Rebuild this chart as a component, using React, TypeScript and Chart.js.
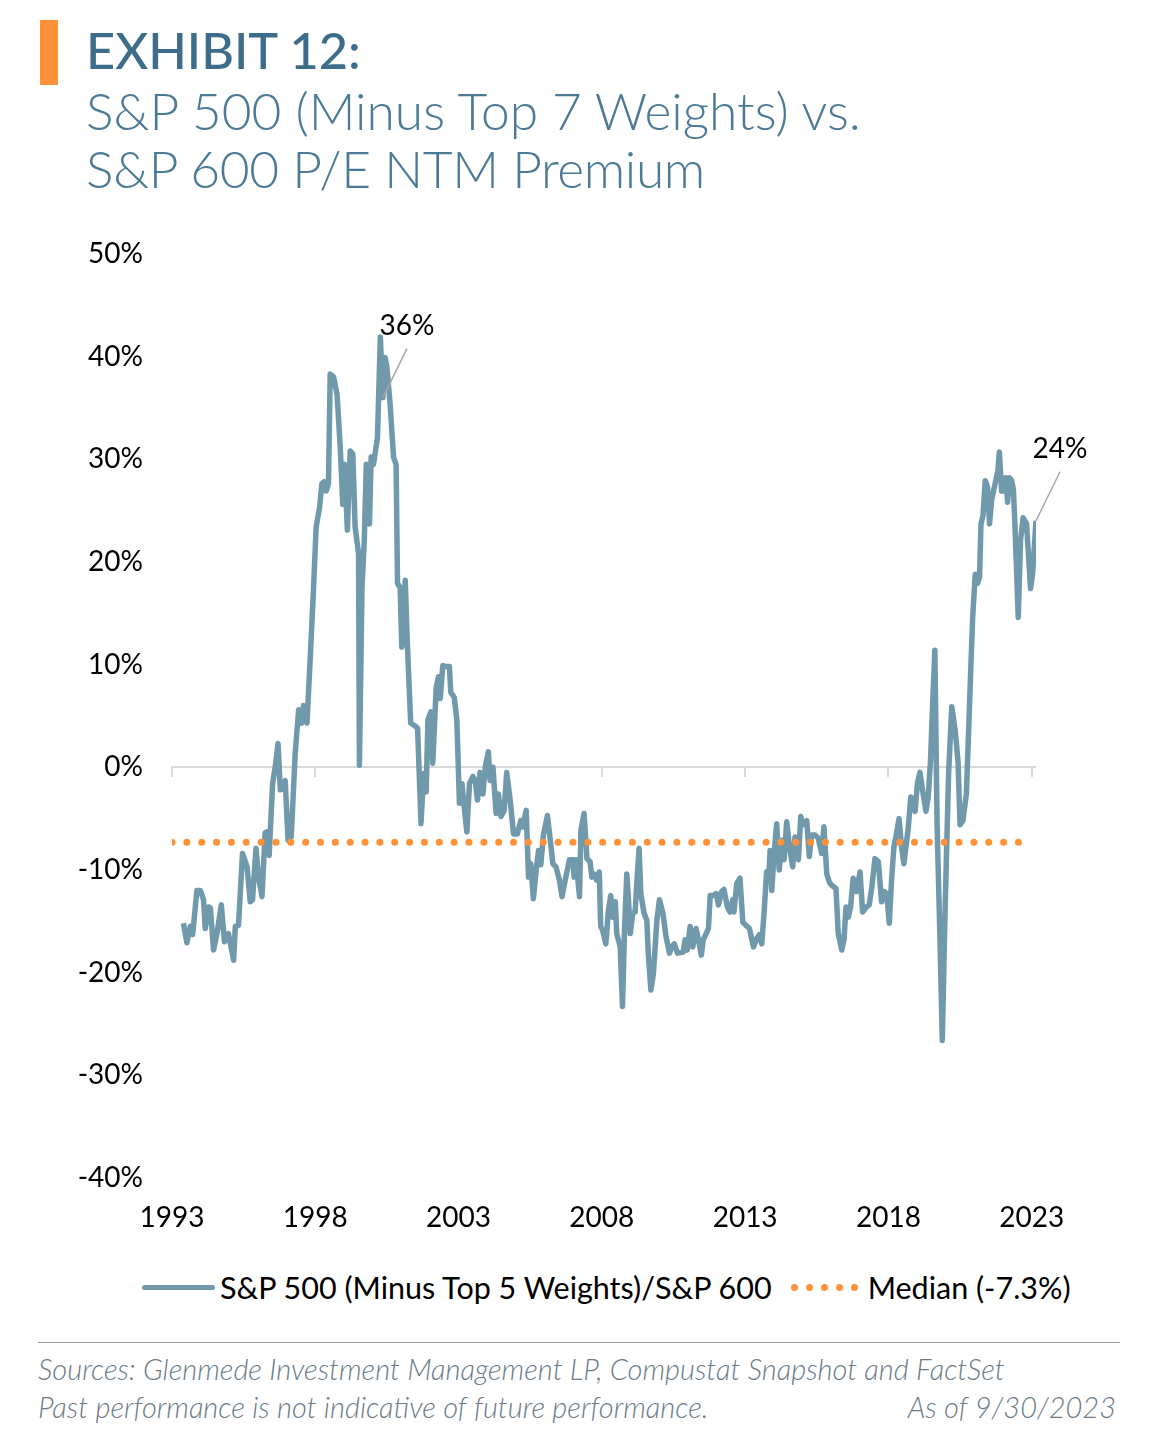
import { useEffect, useRef } from 'react';
import { Chart, registerables } from 'chart.js';

Chart.register(...registerables);

// ---- Data (decimal year, premium %) ----
const years = [
  1993.40, 1993.52, 1993.64, 1993.72, 1993.87, 1993.99, 1994.10, 1994.16, 1994.28, 1994.34,
  1994.45, 1994.57, 1994.72, 1994.83, 1994.97, 1995.15, 1995.21, 1995.32, 1995.46, 1995.62,
  1995.73, 1995.81, 1995.93, 1996.02, 1996.14, 1996.25, 1996.31, 1996.39, 1996.51, 1996.60,
  1996.70, 1996.78, 1996.86, 1996.95, 1997.05, 1997.16, 1997.30, 1997.42, 1997.53, 1997.59,
  1997.71, 1997.82, 1997.94, 1998.03, 1998.15, 1998.23, 1998.31, 1998.38, 1998.46, 1998.52,
  1998.64, 1998.76, 1998.87, 1998.96, 1999.02, 1999.12, 1999.22, 1999.31, 1999.39, 1999.51,
  1999.54, 1999.63, 1999.71, 1999.78, 1999.89, 1999.95, 2000.03, 2000.17, 2000.27, 2000.36,
  2000.44, 2000.50, 2000.61, 2000.73, 2000.82, 2000.87, 2000.96, 2001.02, 2001.14, 2001.21,
  2001.33, 2001.49, 2001.57, 2001.69, 2001.78, 2001.87, 2001.93, 2002.03, 2002.10, 2002.22,
  2002.30, 2002.36, 2002.45, 2002.57, 2002.68, 2002.73, 2002.85, 2002.94, 2003.03, 2003.12,
  2003.17, 2003.29, 2003.38, 2003.50, 2003.58, 2003.66, 2003.75, 2003.85, 2003.93, 2004.04,
  2004.10, 2004.20, 2004.31, 2004.39, 2004.48, 2004.59, 2004.68, 2004.80, 2004.92, 2005.05,
  2005.17, 2005.24, 2005.36, 2005.44, 2005.52, 2005.61, 2005.71, 2005.79, 2005.87, 2005.96,
  2006.10, 2006.20, 2006.29, 2006.40, 2006.52, 2006.61, 2006.72, 2006.87, 2006.99, 2007.03,
  2007.10, 2007.22, 2007.27, 2007.38, 2007.48, 2007.59, 2007.65, 2007.73, 2007.82, 2007.91,
  2007.96, 2008.03, 2008.14, 2008.23, 2008.31, 2008.38, 2008.47, 2008.52, 2008.64, 2008.72,
  2008.79, 2008.87, 2008.93, 2008.99, 2009.08, 2009.16, 2009.24, 2009.30, 2009.36, 2009.47,
  2009.57, 2009.62, 2009.71, 2009.80, 2009.92, 2010.01, 2010.13, 2010.24, 2010.36, 2010.44,
  2010.53, 2010.64, 2010.84, 2010.90, 2010.98, 2011.08, 2011.17, 2011.29, 2011.37, 2011.47,
  2011.54, 2011.64, 2011.72, 2011.78, 2011.89, 2011.99, 2012.07, 2012.18, 2012.26, 2012.38,
  2012.47, 2012.57, 2012.61, 2012.71, 2012.82, 2012.92, 2013.03, 2013.15, 2013.29, 2013.40,
  2013.50, 2013.58, 2013.66, 2013.75, 2013.84, 2013.87, 2013.93, 2014.01, 2014.10, 2014.19,
  2014.28, 2014.36, 2014.45, 2014.54, 2014.66, 2014.74, 2014.86, 2014.94, 2015.03, 2015.15,
  2015.24, 2015.32, 2015.44, 2015.55, 2015.67, 2015.75, 2015.85, 2015.94, 2016.02, 2016.17,
  2016.25, 2016.37, 2016.45, 2016.52, 2016.60, 2016.68, 2016.77, 2016.89, 2017.01, 2017.10,
  2017.24, 2017.33, 2017.42, 2017.53, 2017.65, 2017.76, 2017.85, 2017.94, 2018.03, 2018.11,
  2018.19, 2018.26, 2018.37, 2018.46, 2018.54, 2018.64, 2018.69, 2018.78, 2018.85, 2018.93,
  2019.01, 2019.10, 2019.19, 2019.31, 2019.39, 2019.47, 2019.54, 2019.62, 2019.70, 2019.80,
  2019.88, 2019.98, 2020.10, 2020.21, 2020.33, 2020.43, 2020.50, 2020.60, 2020.72, 2020.80,
  2020.88, 2020.94, 2021.03, 2021.11, 2021.18, 2021.23, 2021.30, 2021.38, 2021.46, 2021.53,
  2021.60, 2021.73, 2021.82, 2021.87, 2021.95, 2022.03, 2022.10, 2022.16, 2022.22, 2022.30,
  2022.36, 2022.41, 2022.53, 2022.61, 2022.70, 2022.82, 2022.96, 2023.03, 2023.15,
];

const premium = [
  -15.2, -17.1, -15.5, -16.3, -12.0, -12.0, -12.9, -15.7, -13.6, -13.7,
  -17.8, -16.2, -13.4, -17.0, -16.2, -18.8, -15.5, -15.4, -8.4, -9.7,
  -13.1, -12.9, -7.9, -10.7, -12.6, -6.4, -6.3, -8.6, -1.6, 0.0,
  2.3, -2.2, -2.1, -1.3, -7.1, -6.8, 1.4, 5.6, 4.3, 6.0,
  4.3, 10.4, 17.5, 23.4, 25.3, 27.6, 27.8, 26.9, 27.6, 38.3,
  38.0, 36.3, 31.2, 25.6, 29.5, 23.1, 30.8, 30.5, 23.4, 20.8,
  0.2, 17.5, 22.1, 29.5, 23.7, 30.2, 29.5, 32.1, 41.9, 36.0,
  39.9, 38.9, 35.4, 30.2, 29.5, 17.9, 17.5, 11.7, 18.2, 12.2,
  4.3, 4.0, 3.8, -5.5, -0.6, -2.4, 4.6, 5.4, 0.4, 7.8,
  8.8, 6.7, 9.9, 9.8, 9.8, 7.3, 6.8, 4.6, -3.5, -1.6,
  -3.2, -6.3, -1.6, -0.9, -1.3, -3.2, -0.5, -2.6, 0.0, 1.5,
  -1.3, 0.0, -4.5, -2.6, -4.8, -4.2, -0.5, -3.2, -6.5, -6.5,
  -5.2, -5.8, -4.2, -10.7, -9.4, -12.8, -10.0, -8.1, -9.5, -6.6,
  -4.7, -7.1, -9.4, -9.7, -11.0, -12.6, -11.0, -9.0, -9.0, -10.7,
  -9.0, -12.6, -6.1, -4.5, -8.9, -9.2, -10.7, -10.4, -11.0, -10.2,
  -15.5, -15.9, -17.2, -13.9, -12.5, -14.6, -13.1, -16.2, -17.5, -23.3,
  -15.9, -10.4, -12.9, -16.2, -14.2, -14.1, -10.4, -7.9, -12.3, -14.2,
  -14.9, -18.1, -21.7, -20.1, -14.9, -12.9, -14.2, -16.5, -18.1, -17.5,
  -17.2, -18.1, -18.0, -16.8, -17.8, -15.5, -17.5, -15.7, -16.8, -18.3,
  -16.8, -16.2, -15.7, -12.5, -12.5, -12.3, -13.4, -12.1, -11.9, -13.6,
  -14.1, -12.9, -14.1, -11.3, -10.8, -15.1, -15.4, -15.7, -17.5, -16.7,
  -16.3, -17.2, -14.2, -10.2, -10.0, -8.1, -12.0, -8.4, -5.5, -10.0,
  -7.1, -9.0, -5.3, -7.6, -9.7, -6.8, -9.0, -4.8, -5.6, -5.2,
  -8.7, -6.6, -6.6, -6.9, -8.4, -5.8, -10.4, -11.2, -11.5, -11.8,
  -16.2, -17.8, -16.8, -13.6, -14.6, -13.6, -10.8, -12.1, -10.2, -14.1,
  -13.6, -13.4, -11.7, -8.9, -9.2, -13.1, -12.1, -12.3, -15.2, -11.0,
  -7.8, -6.8, -5.0, -7.8, -9.4, -7.1, -6.0, -2.9, -3.5, -4.3,
  -1.6, -0.5, -2.2, -4.3, -2.9, 0.7, 5.9, 11.4, -5.8, -16.8,
  -26.6, -13.6, -0.6, 5.9, 3.6, 0.5, -5.6, -5.2, -2.6, 3.6,
  10.1, 14.6, 18.8, 17.9, 18.5, 23.7, 24.5, 27.9, 27.3, 23.7,
  26.0, 27.7, 28.9, 30.7, 26.9, 26.9, 28.2, 25.8, 28.2, 27.9,
  27.1, 24.0, 14.6, 22.1, 24.3, 23.7, 17.4, 18.8, 24.0,
];

const medianValue = -7.3;
const medianYears = [1993, 2023];
const xTickYears = [1993, 1998, 2003, 2008, 2013, 2018, 2023];
const xMin = 1993;
const xMax = 2023.15;
const yMin = -40;
const yMax = 50;
const yStep = 10;
const calloutYears = [2000.36, 2023.15];
const calloutLabels = ['36%', '24%'];

const seriesLabel = 'S&P 500 (Minus Top 5 Weights)/S&P 600';
const medianLabel = 'Median (-7.3%)';

const LINE_COLOR = '#7099AC';
const MEDIAN_COLOR = '#FF9139';
const FONT = 'Lato, "Noto Sans", sans-serif';

const overlayPlugin = {
  id: 'overlay',
  beforeDatasetsDraw(chart: any) {
    const { ctx, chartArea, scales } = chart;
    const x = scales.x;
    const y = scales.y;
    const y0 = Math.round(y.getPixelForValue(0));
    ctx.save();
    ctx.strokeStyle = '#D9D9D9';
    ctx.lineWidth = 2;
    ctx.beginPath();
    ctx.moveTo(x.getPixelForValue(xMin) - 1, y0);
    ctx.lineTo(chartArea.right, y0);
    for (const t of xTickYears) {
      const px = Math.round(x.getPixelForValue(t));
      ctx.moveTo(px, y0);
      ctx.lineTo(px, y0 + 10);
    }
    ctx.stroke();
    ctx.restore();
  },
  afterDatasetsDraw(chart: any) {
    const { ctx, scales } = chart;
    const x = scales.x;
    const y = scales.y;
    ctx.save();
    calloutYears.forEach((yr, i) => {
      const idx = years.indexOf(yr);
      const v = premium[idx];
      const px = x.getPixelForValue(yr);
      const py = y.getPixelForValue(v);
      const ex = px + 24;
      const ey = py - 49;
      ctx.strokeStyle = '#A6A6A6';
      ctx.lineWidth = 1.5;
      ctx.beginPath();
      ctx.moveTo(px, py);
      ctx.lineTo(ex, ey);
      ctx.stroke();
      ctx.fillStyle = '#000';
      ctx.font = `28px ${FONT}`;
      ctx.textAlign = 'center';
      ctx.textBaseline = 'middle';
      ctx.fillText(calloutLabels[i], ex, ey - 23);
    });
    ctx.restore();
  },
};

function ChartCanvas() {
  const ref = useRef<HTMLCanvasElement>(null);
  useEffect(() => {
    if (!ref.current) return;
    const chart = new Chart(ref.current, {
      type: 'line',
      data: {
        datasets: [
          {
            label: medianLabel,
            data: medianYears.map((yr) => ({ x: yr, y: medianValue })),
            borderColor: MEDIAN_COLOR,
            borderWidth: 7,
            borderDash: [0, 14.85],
            borderCapStyle: 'round',
            pointRadius: 0,
            order: 0,
          },
          {
            label: seriesLabel,
            data: years.map((yr, i) => ({ x: yr, y: premium[i] })),
            borderColor: LINE_COLOR,
            borderWidth: 5.5,
            borderJoinStyle: 'round',
            pointRadius: 0,
            tension: 0,
            order: 1,
          },
        ],
      },
      options: {
        responsive: false,
        animation: false,
        layout: { padding: { top: 1, right: 127, left: 0, bottom: 0 } },
        plugins: { legend: { display: false }, tooltip: { enabled: false } },
        scales: {
          x: {
            type: 'linear',
            min: xMin,
            max: xMax,
            grid: { display: false, drawTicks: false },
            border: { display: false },
            afterBuildTicks: (scale: any) => {
              scale.ticks = xTickYears.map((v) => ({ value: v }));
            },
            afterFit: (scale: any) => {
              scale.height = 62;
            },
            ticks: {
              autoSkip: false,
              maxRotation: 0,
              padding: 23,
              color: '#000',
              font: { family: FONT, size: 28 },
              callback: (v: any) => String(v),
            },
          },
          y: {
            min: yMin,
            max: yMax,
            grid: { display: false, drawTicks: false },
            border: { display: false },
            afterFit: (scale: any) => {
              scale.width = 172;
            },
            ticks: {
              stepSize: yStep,
              padding: 29,
              color: '#000',
              font: { family: FONT, size: 28 },
              callback: (v: any) => `${v}%`,
            },
          },
        },
      },
      plugins: [overlayPlugin],
    } as any);
    return () => chart.destroy();
  }, []);
  return <canvas ref={ref} width={1163} height={1032} style={{ display: 'block', width: 1163, height: 1032 }} />;
}

export default function App() {
  const abs = (s: any) => ({ position: 'absolute' as const, ...s });
  return (
    <div style={abs({ left: 0, top: 0, width: 1163, height: 1452, background: '#fff', fontFamily: FONT, overflow: 'hidden' })}>
      <div style={abs({ left: 40, top: 20, width: 18, height: 65, background: '#FF9139' })} />
      <div style={abs({ left: 86, top: 20, fontSize: 50.5, lineHeight: '60.6px', fontWeight: 500, color: '#3E6D8B', whiteSpace: 'nowrap' })}>
        EXHIBIT 12:
      </div>
      <div style={abs({ left: 86, top: 81, fontSize: 51.5, lineHeight: '58px', fontWeight: 300, color: '#4A7A95', whiteSpace: 'nowrap' })}>
        <div>S&amp;P 500 (Minus Top 7 Weights) vs.</div>
        <div style={{ letterSpacing: '-0.4px' }}>S&amp;P 600 P/E NTM Premium</div>
      </div>
      <div style={abs({ left: 0, top: 208 })}>
        <ChartCanvas />
      </div>
      <div style={abs({ left: 142, top: 1269, height: 36, display: 'flex', alignItems: 'center', fontSize: 30.5, color: '#000', whiteSpace: 'nowrap' })}>
        <div style={{ width: 73, height: 5, background: LINE_COLOR, borderRadius: 3, marginRight: 5 }} />
        <span>{seriesLabel}</span>
        <div style={{ display: 'flex', marginLeft: 19, marginRight: 10 }}>
          {[0, 1, 2, 3, 4].map((k) => (
            <div key={k} style={{ width: 7, height: 7, borderRadius: '50%', background: MEDIAN_COLOR, marginRight: k < 4 ? 8 : 0 }} />
          ))}
        </div>
        <span>{medianLabel}</span>
      </div>
      <div style={abs({ left: 38, top: 1342, width: 1082, height: 0, borderTop: '1.5px solid #9A9A9A' })} />
      <div style={abs({ left: 38, top: 1350, width: 1078, fontSize: 29, lineHeight: '38px', fontStyle: 'italic', fontWeight: 300, color: '#6B7B88', whiteSpace: 'nowrap' })}>
        <div>Sources: Glenmede Investment Management LP, Compustat Snapshot and FactSet</div>
        <div style={{ display: 'flex', justifyContent: 'space-between' }}>
          <span>Past performance is not indicative of future performance.</span>
          <span>As of 9/30/2023</span>
        </div>
      </div>
    </div>
  );
}
